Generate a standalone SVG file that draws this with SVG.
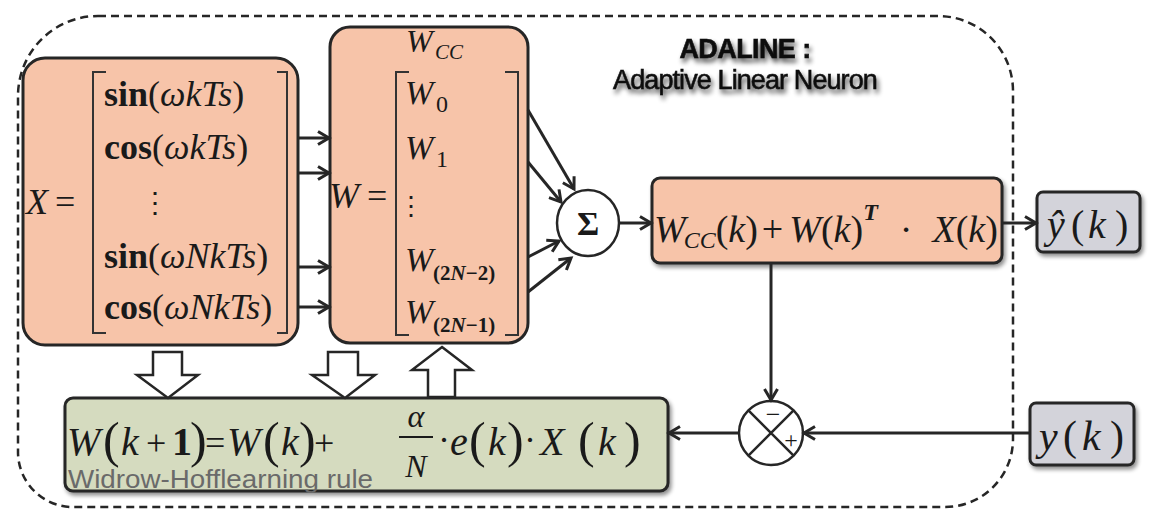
<svg xmlns="http://www.w3.org/2000/svg" width="1150" height="510" viewBox="0 0 1150 510">
<defs>
<style>
.s{font-family:"Liberation Serif","Times New Roman",serif;fill:#1a1a1a}
.i{font-style:italic}
.b{font-weight:bold}
.box{stroke:#262626;stroke-width:3}
.peach{fill:#f7c4a9}
.grey{fill:#d3d3da}
.green{fill:#d5dbbf}
.ln{stroke:#262626;stroke-width:3;fill:none}
.blk{fill:#ffffff;stroke:#262626;stroke-width:2.5;stroke-linejoin:miter}
.br{stroke:#333;stroke-width:2;fill:none}
</style>
<marker id="ch" markerUnits="userSpaceOnUse" markerWidth="16" markerHeight="16" refX="13" refY="8" orient="auto">
<path d="M2,1.5 L13,8 L2,14.5" fill="none" stroke="#262626" stroke-width="3"/>
</marker>
<filter id="sh" x="-10%" y="-20%" width="130%" height="160%">
<feGaussianBlur in="SourceAlpha" stdDeviation="2"/>
<feOffset dx="2" dy="3" result="o"/>
<feComponentTransfer><feFuncA type="linear" slope="0.45"/></feComponentTransfer>
<feMerge><feMergeNode/><feMergeNode in="SourceGraphic"/></feMerge>
</filter>
<filter id="tsh" x="-10%" y="-40%" width="130%" height="200%">
<feGaussianBlur in="SourceAlpha" stdDeviation="2.4"/>
<feOffset dx="2" dy="4" result="o"/>
<feComponentTransfer><feFuncA type="linear" slope="0.7"/></feComponentTransfer>
<feMerge><feMergeNode/><feMergeNode in="SourceGraphic"/></feMerge>
</filter>
</defs>
<rect width="1150" height="510" fill="#ffffff"/>

<path id="boundary" d="M98,16 H938 A75,75 0 0 1 1013,91 V439 A68,68 0 0 1 945,507 H73 A55,55 0 0 1 18,452 V96 A80,80 0 0 1 98,16 Z" fill="none" stroke="#262626" stroke-width="2.5" stroke-dasharray="8,5"/>

<g id="title" filter="url(#tsh)" font-family="Liberation Sans, Arial, sans-serif" fill="#111" stroke="#111" text-anchor="middle">
<text x="745" y="58" font-size="27" font-weight="bold" letter-spacing="-0.6" stroke-width="0.6">ADALINE :</text>
<text x="745" y="89" font-size="27" letter-spacing="-0.9" stroke-width="0.6">Adaptive Linear Neuron</text>
</g>

<g id="nodeX">
<rect class="box peach" x="23" y="58" width="275" height="287" rx="22"/>
<text class="s i" x="26" y="214" font-size="36">X</text>
<text class="s" x="55" y="214" font-size="36">=</text>
<path class="br" d="M106,72 H93 V333 H106 M277,72 H287 V333 H277"/>
<text class="s" x="104" y="106" font-size="36"><tspan class="b">sin</tspan>(<tspan class="i">ωkTs</tspan>)</text>
<text class="s" x="104" y="159" font-size="36"><tspan class="b">cos</tspan>(<tspan class="i">ωkTs</tspan>)</text>
<text class="s" x="155" y="212" font-size="28" text-anchor="middle" font-family="DejaVu Serif">⋮</text>
<text class="s" x="104" y="268" font-size="36"><tspan class="b">sin</tspan>(<tspan class="i">ωNkTs</tspan>)</text>
<text class="s" x="104" y="319" font-size="36"><tspan class="b">cos</tspan>(<tspan class="i">ωNkTs</tspan>)</text>
</g>

<g id="nodeW">
<rect class="box peach" x="330" y="27" width="198" height="316" rx="20"/>
<text class="s i" x="406" y="52" font-size="32">W</text>
<text class="s i" x="435" y="59" font-size="21">CC</text>
<text class="s i" x="329" y="208" font-size="36">W</text>
<text class="s" x="367" y="208" font-size="36">=</text>
<path class="br" d="M409,72 H396 V335 H409 M505,72 H518 V335 H505"/>
<text class="s i" x="405" y="104" font-size="34">W</text>
<text class="s" x="436" y="112" font-size="24">0</text>
<text class="s i" x="405" y="159" font-size="34">W</text>
<text class="s" x="436" y="167" font-size="24">1</text>
<text class="s" x="411" y="215" font-size="26" text-anchor="middle" font-family="DejaVu Serif">⋮</text>
<text class="s i" x="405" y="271" font-size="34">W</text>
<text class="s b" x="433" y="280" font-size="21">(2<tspan class="i">N</tspan>−2)</text>
<text class="s i" x="405" y="323" font-size="34">W</text>
<text class="s b" x="433" y="332" font-size="21">(2<tspan class="i">N</tspan>−1)</text>
</g>

<g id="sum">
<ellipse cx="588" cy="223" rx="31" ry="33" fill="#ffffff" stroke="#262626" stroke-width="2.5"/>
<text class="s b" x="588" y="235" font-size="34" text-anchor="middle" font-family="Liberation Sans, Arial, sans-serif">Σ</text>
</g>

<g id="nodeCalc">
<rect class="box peach" x="652" y="178" width="350" height="85" rx="8" filter="url(#sh)"/>
<text class="s" x="654" y="242" font-size="38"><tspan class="i">W</tspan><tspan class="i" font-size="24" dy="6" dx="-2">CC</tspan><tspan dy="-6">(</tspan><tspan class="i">k</tspan>)<tspan dx="4">+</tspan><tspan class="i" dx="6">W</tspan>(<tspan class="i">k</tspan>)<tspan class="b i" font-size="24" dy="-22">T</tspan><tspan dy="22" dx="22">·</tspan><tspan class="i" dx="20">X</tspan>(<tspan class="i">k</tspan>)</text>
</g>

<g id="nodeYhat">
<rect class="box grey" x="1037" y="192" width="103" height="60" rx="6" filter="url(#sh)"/>
<text class="s i" x="1047" y="238" font-size="40">ŷ</text>
<text class="s" x="1071" y="238" font-size="40">(</text>
<text class="s i" x="1088" y="238" font-size="40">k</text>
<text class="s" x="1115" y="238" font-size="40">)</text>
</g>

<g id="nodeY">
<rect class="box grey" x="1030" y="403" width="104" height="62" rx="6" filter="url(#sh)"/>
<text class="s i" x="1039" y="450" font-size="42">y</text>
<text class="s" x="1063" y="450" font-size="42">(</text>
<text class="s i" x="1082" y="450" font-size="42">k</text>
<text class="s" x="1110" y="450" font-size="42">)</text>
</g>

<g id="err">
<circle cx="771" cy="433" r="32" fill="#ffffff" stroke="#262626" stroke-width="2.5"/>
<path d="M748.4,410.4 L793.6,455.6 M793.6,410.4 L748.4,455.6" stroke="#262626" stroke-width="2.5"/>
<text class="s" x="773" y="423" font-size="26" text-anchor="middle">−</text>
<text class="s" x="791" y="448" font-size="24" text-anchor="middle">+</text>
</g>

<g id="nodeRule">
<rect class="box green" x="65" y="398" width="603" height="93" rx="8" filter="url(#sh)"/>
<text class="s i" x="67" y="455" font-size="40">W</text>
<text class="s" x="103" y="457" font-size="50">(</text>
<text class="s i" x="121" y="455" font-size="40">k</text>
<text class="s" x="146" y="455" font-size="36">+</text>
<text class="s b" x="172" y="455" font-size="40">1</text>
<text class="s" x="190" y="457" font-size="50">)</text>
<text class="s" x="205" y="455" font-size="36">=</text>
<text class="s i" x="227" y="455" font-size="40">W</text>
<text class="s" x="263" y="457" font-size="50">(</text>
<text class="s i" x="281" y="455" font-size="40">k</text>
<text class="s" x="299" y="457" font-size="50">)</text>
<text class="s" x="314" y="455" font-size="36">+</text>
<text class="s i" x="416" y="427" font-size="32" text-anchor="middle">α</text>
<line x1="399" y1="437" x2="433" y2="437" stroke="#1a1a1a" stroke-width="2"/>
<text class="s i" x="416" y="477" font-size="32" text-anchor="middle">N</text>
<text class="s" x="438" y="452" font-size="36">·</text>
<text class="s i" x="450" y="455" font-size="40">e</text>
<text class="s" x="469" y="457" font-size="50">(</text>
<text class="s i" x="488" y="455" font-size="40">k</text>
<text class="s" x="507" y="457" font-size="50">)</text>
<text class="s" x="524" y="452" font-size="36">·</text>
<text class="s i" x="540" y="455" font-size="40">X</text>
<text class="s" x="578" y="457" font-size="50">(</text>
<text class="s i" x="598" y="455" font-size="40">k</text>
<text class="s" x="624" y="457" font-size="50">)</text>
<text x="68" y="488" font-family="Liberation Sans, Arial, sans-serif" font-size="26" fill="#6a6a6a" textLength="305" lengthAdjust="spacingAndGlyphs">Widrow-Hofflearning rule</text>
</g>

<g id="connectors">
<line class="ln" x1="298" y1="138" x2="329" y2="138" marker-end="url(#ch)"/>
<line class="ln" x1="298" y1="173" x2="329" y2="173" marker-end="url(#ch)"/>
<line class="ln" x1="298" y1="267" x2="329" y2="267" marker-end="url(#ch)"/>
<line class="ln" x1="298" y1="307" x2="329" y2="307" marker-end="url(#ch)"/>
<line class="ln" x1="528" y1="110" x2="574" y2="189" stroke-width="2.2" marker-end="url(#ch)"/>
<line class="ln" x1="528" y1="162" x2="561" y2="202" stroke-width="2.2" marker-end="url(#ch)"/>
<line class="ln" x1="528" y1="257" x2="559" y2="241" stroke-width="2.2" marker-end="url(#ch)"/>
<line class="ln" x1="528" y1="292" x2="571" y2="258" stroke-width="2.2" marker-end="url(#ch)"/>
<line class="ln" x1="620" y1="223" x2="651" y2="223" marker-end="url(#ch)"/>
<line class="ln" x1="1003" y1="223" x2="1036" y2="223" marker-end="url(#ch)"/>
<line class="ln" x1="771" y1="264" x2="771" y2="400" marker-end="url(#ch)"/>
<line class="ln" x1="1030" y1="433" x2="804" y2="433" marker-end="url(#ch)"/>
<line class="ln" x1="739" y1="433" x2="669" y2="433" marker-end="url(#ch)"/>
<polygon class="blk" points="153,352 182,352 182,375 198,375 168,398 137,375 153,375"/>
<polygon class="blk" points="328,352 358,352 358,375 375,375 345,398 312,375 328,375"/>
<polygon class="blk" points="442,347 472,370 455,370 455,397 428,397 428,370 412,370"/>
</g>
</svg>
